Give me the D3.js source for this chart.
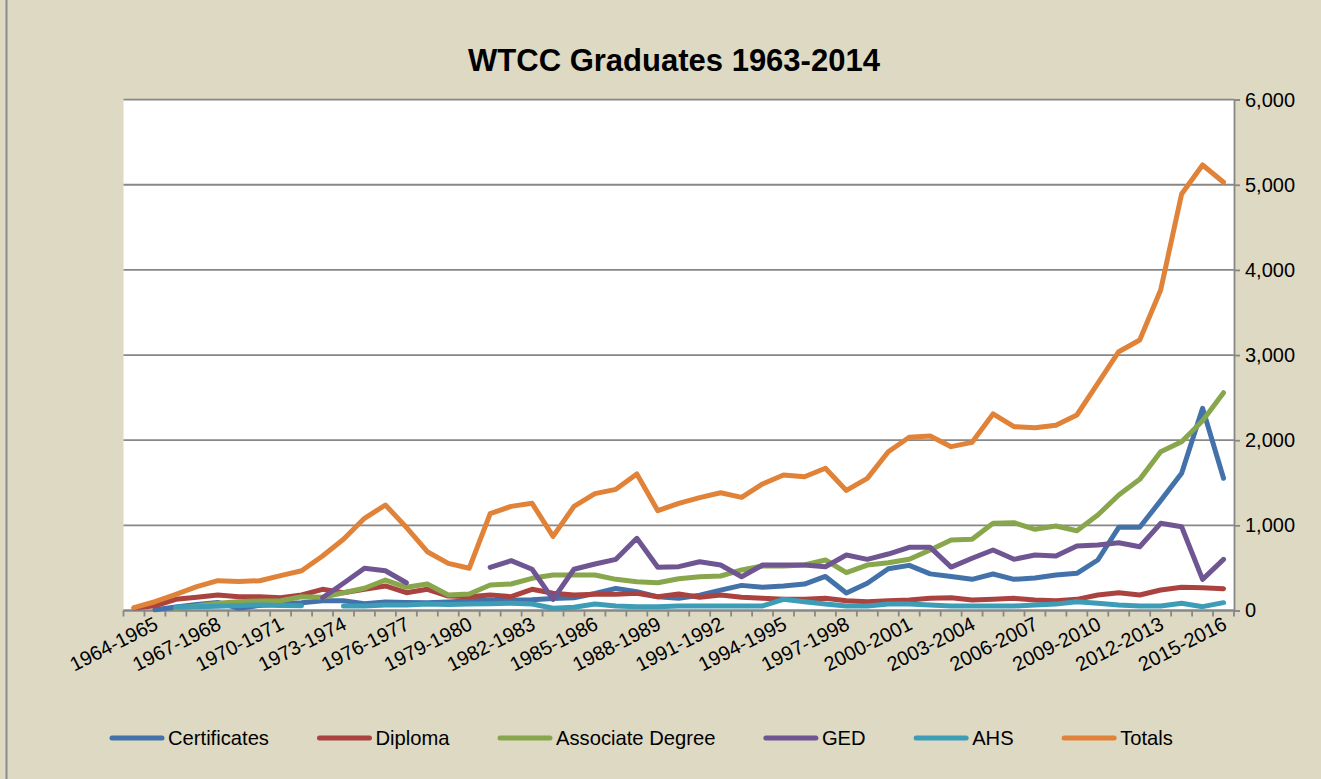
<!DOCTYPE html>
<html lang="en">
<head>
    <meta charset="UTF-8">
    <title>WTCC Graduates 1963-2014</title>
    <script src="https://d3js.org/d3.v7.min.js"></script>
    <style>
        body { margin: 0; background: #DDD9C3; }
        svg text { font-family: Arial, "Liberation Sans", sans-serif; fill: #000; }
    </style>
</head>
<body>
<svg id="viz"></svg>

<script>
    // school years on the category axis
    var categories = [];
    for (var yr = 1963; yr <= 2015; yr++) {
        categories.push(yr + '-' + (yr + 1));
    }
    var yTicks = [0, 1000, 2000, 3000, 4000, 5000, 6000];

    var certificates = [null, 10, 40, 70, 95, 25, 60, 75, 90, 115, 115, 80, 100, 95, 90, 100, 115, 120, 120, 125,
        140, 150, 200, 260, 220, 160, 145, 180, 240, 295, 272, 288, 310, 400, 205, 320, 490, 530, 430, 400,
        366, 429, 366, 382, 417, 437, 593, 977, 977, 1290, 1611, 2375, 1553];
    var diploma = [30, 55, 131, 155, 182, 162, 162, 150, 182, 249, 209, 249, 288, 209, 249, 170, 162, 182, 162, 249,
        202, 182, 190, 190, 202, 162, 194, 155, 182, 155, 143, 131, 131, 143, 115, 103, 115, 123, 143, 150,
        123, 131, 143, 123, 115, 131, 182, 209, 182, 241, 272, 268, 256];
    var associate = [null, null, 26, 53, 85, 103, 112, 115, 162, 155, 209, 261, 358, 272, 311, 182, 194, 299, 311, 378,
        417, 417, 417, 366, 338, 326, 373, 397, 405, 476, 523, 523, 534, 593, 444, 534, 561, 601, 710, 828,
        836, 1024, 1031, 954, 992, 937, 1121, 1356, 1540, 1865, 1982, 2229, 2558];
    var ged = [null, null, null, null, null, null, null, null, null, 150, 320, 496, 467, 326, null, null, null, 507, 585, 484,
        131, 484, 546, 601, 848, 507, 515, 573, 534, 397, 534, 534, 534, 514, 652, 601, 663, 742, 742, 510,
        613, 710, 601, 652, 640, 757, 769, 796, 749, 1024, 984, 366, 601];
    var ahs = [null, null, 40, 45, 50, 60, 65, 60, 55, null, 53, 53, 65, 65, 76, 70, 75, 80, 85, 76,
        26, 38, 76, 53, 45, 45, 53, 53, 53, 53, 53, 131, 103, 76, 53, 53, 76, 76, 65, 53,
        53, 53, 53, 65, 75, 103, 85, 65, 53, 53, 85, 45, 92];
    var totals = [33, 103, 190, 280, 350, 340, 350, 409, 467, 640, 836, 1083, 1239, 977, 690, 554, 496, 1137, 1223, 1259,
        870, 1223, 1372, 1423, 1603, 1172, 1259, 1325, 1383, 1329, 1486, 1591, 1571, 1670, 1410, 1552, 1865, 2034, 2049, 1924,
        1975, 2308, 2159, 2147, 2175, 2296, 2668, 3039, 3177, 3764, 4891, 5232, 5029];

    var seriesNames = ['Certificates', 'Diploma', 'Associate Degree', 'GED', 'AHS', 'Totals'];
    var seriesValues = [certificates, diploma, associate, ged, ahs, totals];
    var colors = ['#4372AA', '#AA4340', '#88A64B', '#6F5592', '#3E9DB6', '#E08238'];

    var width = 1321, height = 779;
    var plotLeft = 123.5, plotRight = 1234, plotTop = 99.6, plotBottom = 610.5;

    var svg = d3.select('#viz')
        .attr('width', width)
        .attr('height', height);

    svg.append('rect')
        .attr('width', width).attr('height', height)
        .attr('fill', '#DDD9C3');
    svg.append('line')
        .attr('x1', 6.5).attr('x2', 6.5).attr('y1', 0).attr('y2', height)
        .attr('stroke', '#8C8C8C').attr('stroke-width', 2);

    // title
    svg.append('text')
        .attr('x', 674).attr('y', 71)
        .attr('text-anchor', 'middle')
        .style('font-size', '31px')
        .style('font-weight', 'bold')
        .text('WTCC Graduates 1963-2014');

    var x = d3.scaleBand().domain(categories).range([plotLeft, plotRight]);
    var y = d3.scaleLinear().domain([0, 6000]).range([plotBottom, plotTop]);

    svg.append('rect')
        .attr('x', plotLeft).attr('y', plotTop)
        .attr('width', plotRight - plotLeft).attr('height', plotBottom - plotTop)
        .attr('fill', '#fff');

    // gridlines
    svg.selectAll('.grid')
        .data(yTicks)
        .enter()
        .append('line')
        .attr('class', 'grid')
        .attr('x1', plotLeft).attr('x2', plotRight)
        .attr('y1', function (d) { return y(d); })
        .attr('y2', function (d) { return y(d); })
        .attr('stroke', '#878787')
        .attr('stroke-width', 1.8);

    // right value axis
    var yAxis = svg.append('g')
        .attr('transform', 'translate(' + plotRight + ',0)')
        .call(d3.axisRight(y).tickValues(yTicks).tickFormat(d3.format(',')).tickSize(6).tickPadding(5));
    yAxis.select('.domain').attr('stroke', '#878787').attr('stroke-width', 1.8);
    yAxis.selectAll('.tick line').attr('stroke', '#878787').attr('stroke-width', 1.8);
    yAxis.selectAll('text').style('font-size', '20px').attr('font-family', null);

    // category axis: line, boundary ticks, rotated labels
    svg.append('line')
        .attr('x1', plotLeft).attr('x2', plotRight)
        .attr('y1', plotBottom).attr('y2', plotBottom)
        .attr('stroke', '#878787').attr('stroke-width', 1.8);
    var boundaries = categories.map(function (c) { return x(c); }).concat([plotRight]);
    svg.selectAll('.xtick')
        .data(boundaries)
        .enter()
        .append('line')
        .attr('class', 'xtick')
        .attr('x1', function (d) { return d; }).attr('x2', function (d) { return d; })
        .attr('y1', plotBottom).attr('y2', plotBottom + 6)
        .attr('stroke', '#878787').attr('stroke-width', 1.8);

    var labelled = categories.filter(function (c, i) { return i % 3 === 1; });
    svg.selectAll('.xlabel')
        .data(labelled)
        .enter()
        .append('text')
        .attr('class', 'xlabel')
        .attr('text-anchor', 'end')
        .attr('dy', '0.72em')
        .style('font-size', '20px')
        .attr('transform', function (d) {
            return 'translate(' + (x(d) + x.bandwidth() / 2 - 2) + ',' + (plotBottom + 5) + ') rotate(-27)';
        })
        .text(function (d) { return d; });

    // series lines
    var line = d3.line()
        .defined(function (d) { return d != null; })
        .x(function (d, i) { return x(categories[i]) + x.bandwidth() / 2; })
        .y(function (d) { return y(d); });

    svg.selectAll('.series')
        .data(seriesValues)
        .enter()
        .append('path')
        .attr('class', 'series')
        .attr('fill', 'none')
        .attr('stroke', function (d, i) { return colors[i]; })
        .attr('stroke-width', 5)
        .attr('stroke-linejoin', 'round')
        .attr('stroke-linecap', 'round')
        .attr('d', line);

    // legend
    var legend = svg.append('g');
    var lx = 110, ly = 738;
    seriesNames.forEach(function (name, i) {
        legend.append('line')
            .attr('x1', lx + 2).attr('x2', lx + 52)
            .attr('y1', ly).attr('y2', ly)
            .attr('stroke', colors[i])
            .attr('stroke-width', 5)
            .attr('stroke-linecap', 'round');
        var t = legend.append('text')
            .attr('x', lx + 58).attr('y', ly)
            .attr('dy', '0.35em')
            .style('font-size', '20.2px')
            .text(name);
        lx += 58 + t.node().getComputedTextLength() + 48.5;
    });
</script>
</body>
</html>
